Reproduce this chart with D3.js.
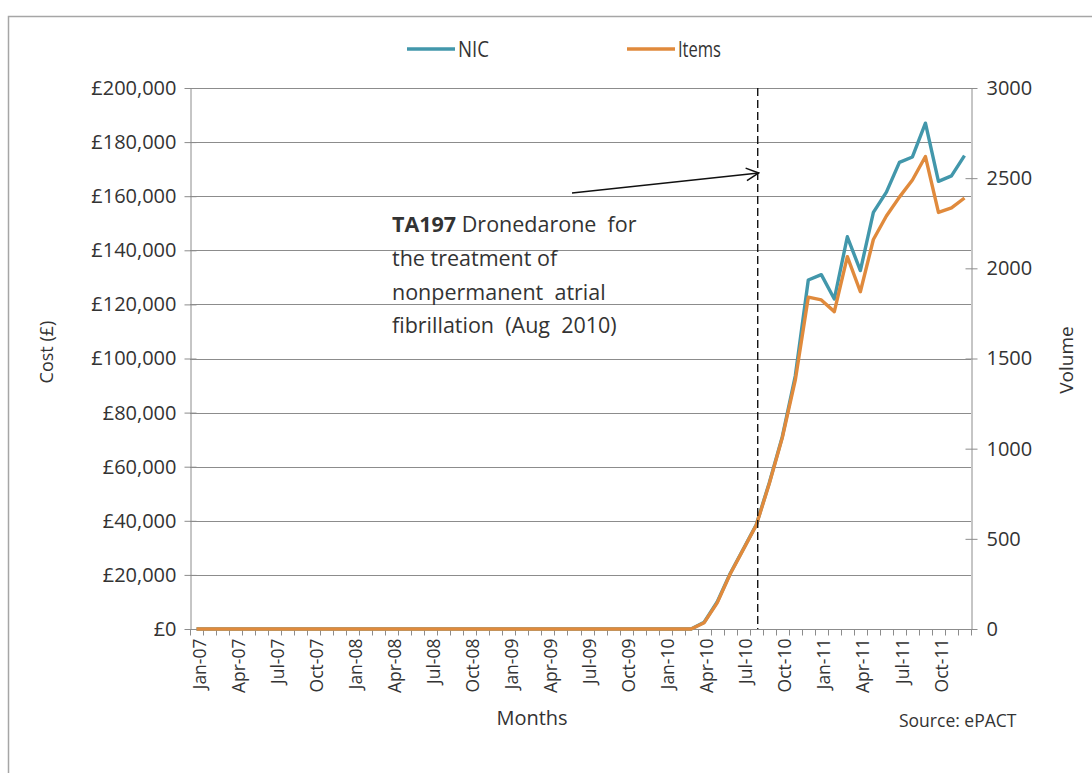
<!DOCTYPE html>
<html><head><meta charset="utf-8">
<script src="https://cdn.jsdelivr.net/npm/d3@7"></script>
<style>
html,body{margin:0;padding:0;background:#fff;}
text{font-family:"Open Sans","DejaVu Sans",sans-serif;fill:#333;}
</style></head>
<body><svg id="chart" width="1092" height="773"></svg>
<script>
const months = ["Jan-07","Feb-07","Mar-07","Apr-07","May-07","Jun-07","Jul-07","Aug-07","Sep-07","Oct-07","Nov-07","Dec-07",
"Jan-08","Feb-08","Mar-08","Apr-08","May-08","Jun-08","Jul-08","Aug-08","Sep-08","Oct-08","Nov-08","Dec-08",
"Jan-09","Feb-09","Mar-09","Apr-09","May-09","Jun-09","Jul-09","Aug-09","Sep-09","Oct-09","Nov-09","Dec-09",
"Jan-10","Feb-10","Mar-10","Apr-10","May-10","Jun-10","Jul-10","Aug-10","Sep-10","Oct-10","Nov-10","Dec-10",
"Jan-11","Feb-11","Mar-11","Apr-11","May-11","Jun-11","Jul-11","Aug-11","Sep-11","Oct-11","Nov-11","Dec-11"];
const labelMonths = ["Jan-07","Apr-07","Jul-07","Oct-07","Jan-08","Apr-08","Jul-08","Oct-08","Jan-09","Apr-09","Jul-09","Oct-09",
"Jan-10","Apr-10","Jul-10","Oct-10","Jan-11","Apr-11","Jul-11","Oct-11"];
const nic = [0,0,0,0,0,0,0,0,0,0,0,0,
0,0,0,0,0,0,0,0,0,0,0,0,
0,0,0,0,0,0,0,0,0,0,0,0,
0,0,0,2500,10000,20500,29500,38500,54000,71000,93500,129000,
131000,122000,145000,132500,154000,161500,172500,174500,187000,165500,167500,175000];
const items = [0,0,0,0,0,0,0,0,0,0,0,0,
0,0,0,0,0,0,0,0,0,0,0,0,
0,0,0,0,0,0,0,0,0,0,0,0,
0,0,0,35,145,305,440,575,805,1060,1380,1840,
1825,1760,2065,1870,2160,2290,2395,2490,2620,2310,2335,2390];
const costTicks = [0,20000,40000,60000,80000,100000,120000,140000,160000,180000,200000];
const volTicks = [0,500,1000,1500,2000,2500,3000];
const colors = {NIC:"#4297ab", Items:"#e08a3c"};
const eventMonth = "Aug-10";
const annotation = [["TA197"," Dronedarone  for"],["","the treatment of"],["","nonpermanent  atrial"],["","fibrillation  (Aug  2010)"]];

const svg = d3.select("#chart");
const L=190, R=971, T=88, B=629;
const axisCol = "#8c8c8c";
const x = d3.scaleBand().domain(months).range([L,R]).padding(0);
const cx = m => x(m) + x.bandwidth()/2;
const yC = d3.scaleLinear().domain([0,200000]).range([B,T]);
const yV = d3.scaleLinear().domain([0,3000]).range([B,T]);

// outer border
svg.append("rect").attr("x",8.5).attr("y",16.5).attr("width",1200).attr("height",900)
  .attr("fill","none").attr("stroke","#a6a6a6").attr("stroke-width",1.5);

// gridlines
svg.append("g").selectAll("line").data(costTicks.slice(1)).join("line")
  .attr("x1",L).attr("x2",R).attr("y1",d=>Math.round(yC(d))+0.5).attr("y2",d=>Math.round(yC(d))+0.5)
  .attr("stroke",axisCol).attr("stroke-width",1);

// left axis
const fmt = d => "£" + d3.format(",")(d);
const gl = svg.append("g").attr("transform",`translate(${L+0.5},0)`)
  .call(d3.axisLeft(yC).tickValues(costTicks).tickFormat(fmt).tickSizeInner(-6).tickSizeOuter(0).tickPadding(13));
gl.selectAll(".tick line").attr("x1",-6).attr("x2",6);
gl.selectAll("text").style("font-size","20px").attr("fill","#333").attr("x",-14);
// right axis
const gr = svg.append("g").attr("transform",`translate(${R+0.5},0)`)
  .call(d3.axisRight(yV).tickValues(volTicks).tickFormat(d3.format("d")).tickSizeInner(6).tickSizeOuter(0));
gr.selectAll(".tick line").attr("x1",-6).attr("x2",6);
gr.selectAll("text").style("font-size","20px").attr("fill","#333").attr("x",15);
[gl,gr].forEach(g=>{g.select(".domain").attr("stroke",axisCol);g.selectAll(".tick line").attr("stroke",axisCol);});

// bottom axis: ticks at month boundaries
const gb = svg.append("g").attr("transform",`translate(0,${B+0.5})`);
gb.append("line").attr("x1",L).attr("x2",R).attr("stroke",axisCol);
gb.selectAll("line.t").data(months.concat(["__end"])).join("line").attr("class","t")
  .attr("x1",(d,i)=>Math.round(L+i*x.bandwidth())+0.5).attr("x2",(d,i)=>Math.round(L+i*x.bandwidth())+0.5)
  .attr("y1",0).attr("y2",6).attr("stroke",axisCol);
gb.selectAll("text").data(labelMonths).join("text")
  .attr("transform",d=>`translate(${cx(d)+3},9) rotate(-90)`)
  .attr("text-anchor","end").attr("dy","0.35em")
  .style("font-size","17.5px").text(d=>d);

// lines
const lineC = d3.line().x((d,i)=>cx(months[i])).y(d=>yC(d));
const lineV = d3.line().x((d,i)=>cx(months[i])).y(d=>yV(d));
svg.append("path").datum(nic).attr("d",lineC).attr("fill","none")
  .attr("stroke",colors.NIC).attr("stroke-width",3.4).attr("stroke-linejoin","round");
svg.append("path").datum(items).attr("d",lineV).attr("fill","none")
  .attr("stroke",colors.Items).attr("stroke-width",3.4).attr("stroke-linejoin","round");

// event dashed line
const ex = cx(eventMonth)+1.5;
svg.append("line").attr("x1",ex).attr("x2",ex).attr("y1",T).attr("y2",B)
  .attr("stroke","#111").attr("stroke-width",1.4).attr("stroke-dasharray","8,4");

// arrow
svg.append("defs").append("marker").attr("id","arr").attr("viewBox","0 0 12 12")
  .attr("refX",11).attr("refY",6).attr("markerWidth",15).attr("markerHeight",15)
  .attr("markerUnits","userSpaceOnUse").attr("orient","auto")
  .append("path").attr("d","M1,1 L11,6 L1,11").attr("fill","none").attr("stroke","#111").attr("stroke-width",1.2);
svg.append("line").attr("x1",572).attr("y1",193).attr("x2",ex+1).attr("y2",173)
  .attr("stroke","#111").attr("stroke-width",1.3).attr("marker-end","url(#arr)");

// annotation text
annotation.forEach((ln,i)=>{
  const t = svg.append("text").attr("x",392).attr("y",232+i*33.8).style("font-size","21.5px").style("white-space","pre");
  if(ln[0]) t.append("tspan").style("font-weight","bold").text(ln[0]);
  t.append("tspan").text(ln[1]);
});

// legend
const lg = [{n:"NIC",x:407,w:31},{n:"Items",x:627,w:43}];
lg.forEach(d=>{
  svg.append("line").attr("x1",d.x).attr("x2",d.x+48).attr("y1",49).attr("y2",49)
    .attr("stroke",colors[d.n]).attr("stroke-width",3.5);
  svg.append("text").attr("x",d.x+51).attr("y",57).style("font-size","22px")
    .attr("textLength",d.w).attr("lengthAdjust","spacingAndGlyphs").text(d.n);
});

// axis titles
svg.append("text").attr("transform","translate(53,352) rotate(-90)").attr("text-anchor","middle")
  .style("font-size","18px").text("Cost (£)");
svg.append("text").attr("transform","translate(1073,360) rotate(-90)").attr("text-anchor","middle")
  .style("font-size","19px").text("Volume");
svg.append("text").attr("x",532).attr("y",725).attr("text-anchor","middle").style("font-size","20px").text("Months");
svg.append("text").attr("x",899).attr("y",727).style("font-size","17.5px").text("Source: ePACT");
</script></body></html>
